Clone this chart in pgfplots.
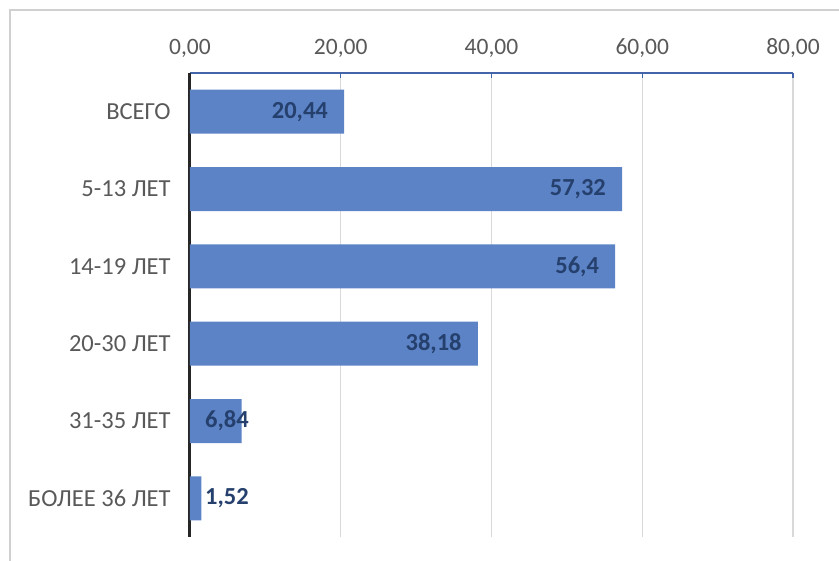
\documentclass[border=0pt]{standalone}
\usepackage{fontspec}
\setmainfont{Carlito}
\usepackage{pgfplots}
\pgfplotsset{compat=1.18}
\definecolor{barblue}{RGB}{91,131,198}
\definecolor{lblblue}{RGB}{38,64,110}
\definecolor{txtgrey}{RGB}{89,89,89}
\definecolor{gridgrey}{RGB}{217,217,217}
\definecolor{axblue}{RGB}{68,100,170}
\definecolor{framegrey}{RGB}{208,208,208}
\begin{document}
\begin{tikzpicture}
\useasboundingbox (-190bp,-24bp) rectangle (649bp,537bp);
\draw[framegrey, line width=1.5bp] (-180bp,-30bp) -- (-180bp,527bp) -- (660bp,527bp);
\begin{axis}[
 at={(0,0)}, anchor=south west,
 scale only axis, width=603bp, height=464bp,
 xbar, bar width=44bp, bar shift=0pt,
 xmin=0, xmax=80, xtick={0,20,...,80},
 ymin=-0.5, ymax=5.5, y dir=reverse,
 ytick={0,...,5},
 yticklabels={ВСЕГО,5-13 ЛЕТ,14-19 ЛЕТ,20-30 ЛЕТ,31-35 ЛЕТ,БОЛЕЕ 36 ЛЕТ},
 axis x line=top, axis y line=left,
 x axis line style={-, axblue, line width=1.5bp},
 y axis line style={-, black!85, line width=3bp},
 xtick style={axblue, line width=1.5bp}, major tick length=5bp, tick align=inside,
 ytick style={draw=none},
 xmajorgrids, grid style={gridgrey, line width=1.5bp},
 /pgf/number format/.cd, use comma, fixed, fixed zerofill, precision=2, assume math mode=true,
 /pgfplots/.cd,
 xticklabel style={font=\fontsize{23.5bp}{27bp}\selectfont, text=txtgrey, yshift=12bp},
 yticklabel style={font=\fontsize{24.5bp}{28bp}\selectfont, text=txtgrey, xshift=-16bp},
]
\addplot[fill=barblue, draw=none, point meta=x,
  nodes near coords={\pgfmathprintnumber[use comma,fixed,fixed zerofill=false,precision=2]{\pgfplotspointmeta}},
  nodes near coords style={anchor=east, inner sep=0pt, xshift=-16bp, text=lblblue, font=\bfseries\fontsize{24.5bp}{28bp}\selectfont}]
  coordinates {(20.44,0) (57.32,1) (56.4,2) (38.18,3)};
\addplot[fill=barblue, draw=none, point meta=x,
  visualization depends on={rawx \as \rawx},
  nodes near coords={\pgfmathprintnumber[use comma,fixed,fixed zerofill=false,precision=2]{\pgfplotspointmeta}},
  nodes near coords style={anchor=east, inner sep=0pt, xshift={(7.83-\rawx)*7.5375bp}, text=lblblue, font=\bfseries\fontsize{24.5bp}{28bp}\selectfont}]
  coordinates {(6.84,4) (1.52,5)};
\end{axis}
\end{tikzpicture}
\end{document}
